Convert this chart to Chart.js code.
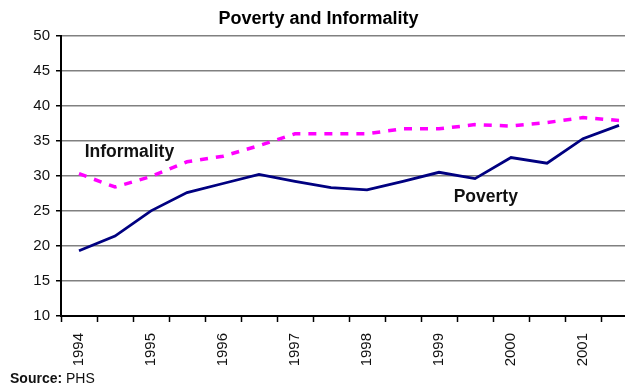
<!DOCTYPE html>
<html>
<head>
<meta charset="utf-8">
<script src="https://cdn.jsdelivr.net/npm/chart.js@4/dist/chart.umd.min.js"></script>
<style>
  html, body { margin: 0; padding: 0; background: #fff; overflow: hidden; }
  #wrap { position: relative; width: 625px; height: 389px; overflow: hidden; }
  #chart { position: absolute; left: 0; top: 0; }
  #source { position: absolute; left: 10px; top: 370px; font: 14px "Liberation Sans", Arial, sans-serif; color: #111; }
</style>
</head>
<body>
<div id="wrap">
  <canvas id="chart" width="662" height="389"></canvas>
  <div id="source"><b>Source:</b> PHS</div>
</div>
<script>
// half-year points, a year label on every second one
const periods = ["1994", "", "1995", "", "1996", "", "1997", "", "1998", "", "1999", "", "2000", "", "2001", ""];
const poverty = [19.3, 21.4, 25.0, 27.6, 28.9, 30.2, 29.2, 28.3, 28.0, 29.2, 30.5, 29.6, 32.6, 31.8, 35.3, 37.2];
const informality = [30.3, 28.4, 29.9, 32.0, 32.8, 34.3, 36.0, 36.0, 36.0, 36.7, 36.7, 37.3, 37.1, 37.6, 38.3, 37.9];
const yTicks = { min: 10, max: 50, step: 5 };

const lineLabels = {
  id: "lineLabels",
  afterDatasetsDraw(chart) {
    const { ctx, scales: { x, y } } = chart;
    ctx.save();
    ctx.font = "bold 17.5px 'Liberation Sans', Arial, sans-serif";
    ctx.fillStyle = "#111";
    ctx.textAlign = "center";
    ctx.textBaseline = "middle";
    ctx.fillText("Informality", x.getPixelForValue(1.4), y.getPixelForValue(33.3));
    ctx.fillText("Poverty", x.getPixelForValue(11.3), y.getPixelForValue(27.0));
    ctx.restore();
  }
};

new Chart(document.getElementById("chart"), {
  type: "line",
  data: {
    labels: periods,
    datasets: [
      { label: "Poverty", data: poverty, borderColor: "#000080", borderWidth: 2.8, pointRadius: 0, tension: 0 },
      { label: "Informality", data: informality, borderColor: "#ff00ff", borderWidth: 3.5, borderDash: [8, 8], pointRadius: 0, tension: 0 }
    ]
  },
  options: {
    responsive: false,
    animation: false,
    layout: { padding: { left: 0, right: 25, top: 0, bottom: 0 } },
    plugins: {
      legend: { display: false },
      tooltip: { enabled: false },
      title: {
        display: true,
        text: "Poverty and Informality",
        color: "#000",
        font: { family: "'Liberation Sans', Arial, sans-serif", size: 18, weight: "bold" },
        padding: { top: 8, bottom: 6 }
      }
    },
    scales: {
      x: {
        offset: true,
        grid: { offset: true, drawOnChartArea: false, drawTicks: true, tickLength: 6, tickColor: "#000", tickWidth: 1.5 },
        border: { color: "#000", width: 2 },
        ticks: {
          autoSkip: false, maxRotation: 90, minRotation: 90, padding: 11,
          color: "#111", font: { family: "'Liberation Sans', Arial, sans-serif", size: 15 }
        },
        afterFit(scale) { scale.height = 73; }
      },
      y: {
        min: yTicks.min, max: yTicks.max,
        grid: { color: "#808080", lineWidth: 1.5, tickLength: 5, tickColor: "#000", tickWidth: 1.5 },
        border: { color: "#000", width: 2 },
        ticks: {
          stepSize: yTicks.step, padding: 6,
          color: "#111", font: { family: "'Liberation Sans', Arial, sans-serif", size: 15 }
        },
        afterFit(scale) { scale.width = 61; }
      }
    }
  },
  plugins: [lineLabels]
});
</script>
</body>
</html>
